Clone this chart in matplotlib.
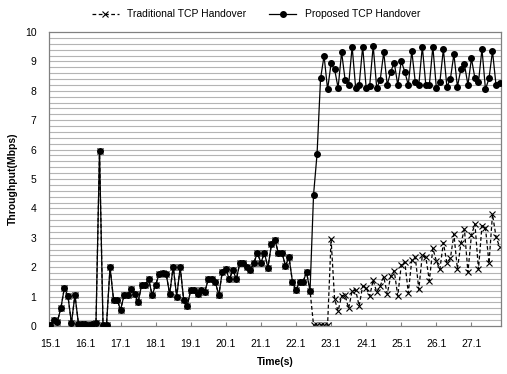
import matplotlib.pyplot as plt
import numpy as np

# throughput samples, one every 0.1 s starting at 15.1 s
proposed = [
    0.05, 0.2, 0.15, 0.62, 1.3, 1.02, 0.1, 1.05, 0.08, 0.08,
    0.08, 0.05, 0.08, 0.1, 5.95, 0.05, 0.05, 2.0, 0.9, 0.9,
    0.55, 1.05, 1.05, 1.25, 1.1, 0.8, 1.4, 1.4, 1.6, 1.05,
    1.4, 1.77, 1.81, 1.77, 1.09, 2.02, 1.0, 2.0, 0.88, 0.69,
    1.22, 1.22, 1.09, 1.22, 1.16, 1.59, 1.59, 1.5, 1.05, 1.85,
    1.93, 1.59, 1.9, 1.59, 2.15, 2.15, 2.02, 1.9, 2.15, 2.49,
    2.15, 2.49, 1.98, 2.78, 2.93, 2.47, 2.49, 2.05, 2.34, 1.5,
    1.22, 1.5, 1.5, 1.83, 1.2, 4.46, 5.85, 8.42, 9.19, 8.05,
    8.93, 8.73, 8.1, 9.31, 8.37, 8.2, 9.5, 8.1, 8.2, 9.5,
    8.1, 8.17, 9.53, 8.1, 8.37, 9.31, 8.2, 8.65, 8.96, 8.2,
    9.01, 8.65, 8.2, 9.35, 8.29, 8.2, 9.5, 8.2, 8.2, 9.5,
    8.1, 8.29, 9.42, 8.14, 8.4, 9.25, 8.14, 8.74, 8.9, 8.2,
    9.1, 8.42, 8.29, 9.42, 8.05, 8.42, 9.35, 8.2, 8.25,
]

traditional_tail = [
    0.03, 0.03, 0.04, 0.04, 0.03, 2.95, 0.91, 0.51, 1.03, 1.05,
    0.6, 1.2, 1.22, 0.68, 1.36, 1.3, 1.02, 1.56, 1.15, 1.36,
    1.68, 1.09, 1.7, 1.88, 1.02, 2.07, 2.19, 1.13, 2.24, 2.34,
    1.25, 2.41, 2.34, 1.54, 2.64, 2.21, 1.93, 2.83, 2.15, 2.3,
    3.12, 1.94, 2.81, 3.29, 1.83, 3.1, 3.47, 1.93, 3.41, 3.34,
    2.13, 3.8, 3.04, 2.7,
]
# both schemes are identical until the handover at ~22.6 s
traditional = proposed[:75] + traditional_tail

tick_labels = ['15.1', '16.1', '17.1', '18.1', '19.1', '20.1', '21.1',
               '22.1', '23.1', '24.1', '25.1', '26.1', '27.1']

plt.rcParams['font.family'] = ['Liberation Sans', 'DejaVu Sans']

x = np.arange(len(proposed))

fig = plt.figure(figsize=(5.07, 3.74), dpi=100)
ax = fig.add_axes([0.0966, 0.1283, 0.8914, 0.7861])

for yv in np.arange(0.2, 10, 0.2):
    ax.axhline(yv, color='#b4b4b4', lw=0.8, zorder=0)

ax.plot(x, traditional, ls=(0, (3, 2)), color='black', lw=0.9,
        marker='x', ms=5, mew=0.8, label='Traditional TCP Handover', zorder=2)
ax.plot(x, proposed, ls='-', color='black', lw=0.9,
        marker='o', ms=4, label='Proposed TCP Handover', zorder=3)

ax.set_xlim(-0.4, len(proposed) - 0.6)
ax.set_ylim(0, 10)
ax.set_yticks(range(0, 11))
ax.set_xticks(np.arange(0, 130, 10))
ax.set_xticklabels(tick_labels)
ax.tick_params(axis='x', direction='in', length=3, color='#808080',
               labelsize=7.5, pad=9)
ax.tick_params(axis='y', length=0, labelsize=7.5, pad=9)
for s in ax.spines.values():
    s.set_color('#808080')
    s.set_linewidth(0.9)

ax.set_xlabel('Time(s)', fontsize=7.5, fontweight='bold', labelpad=6)
ax.set_ylabel('Throughput(Mbps)', fontsize=7.5, fontweight='bold', labelpad=5)

fig.legend(loc='upper center', bbox_to_anchor=(0.505, 1.0), ncol=2,
           frameon=False, fontsize=7.5, handlelength=2.6, columnspacing=2.2)

fig.savefig('out.png', dpi=100)
